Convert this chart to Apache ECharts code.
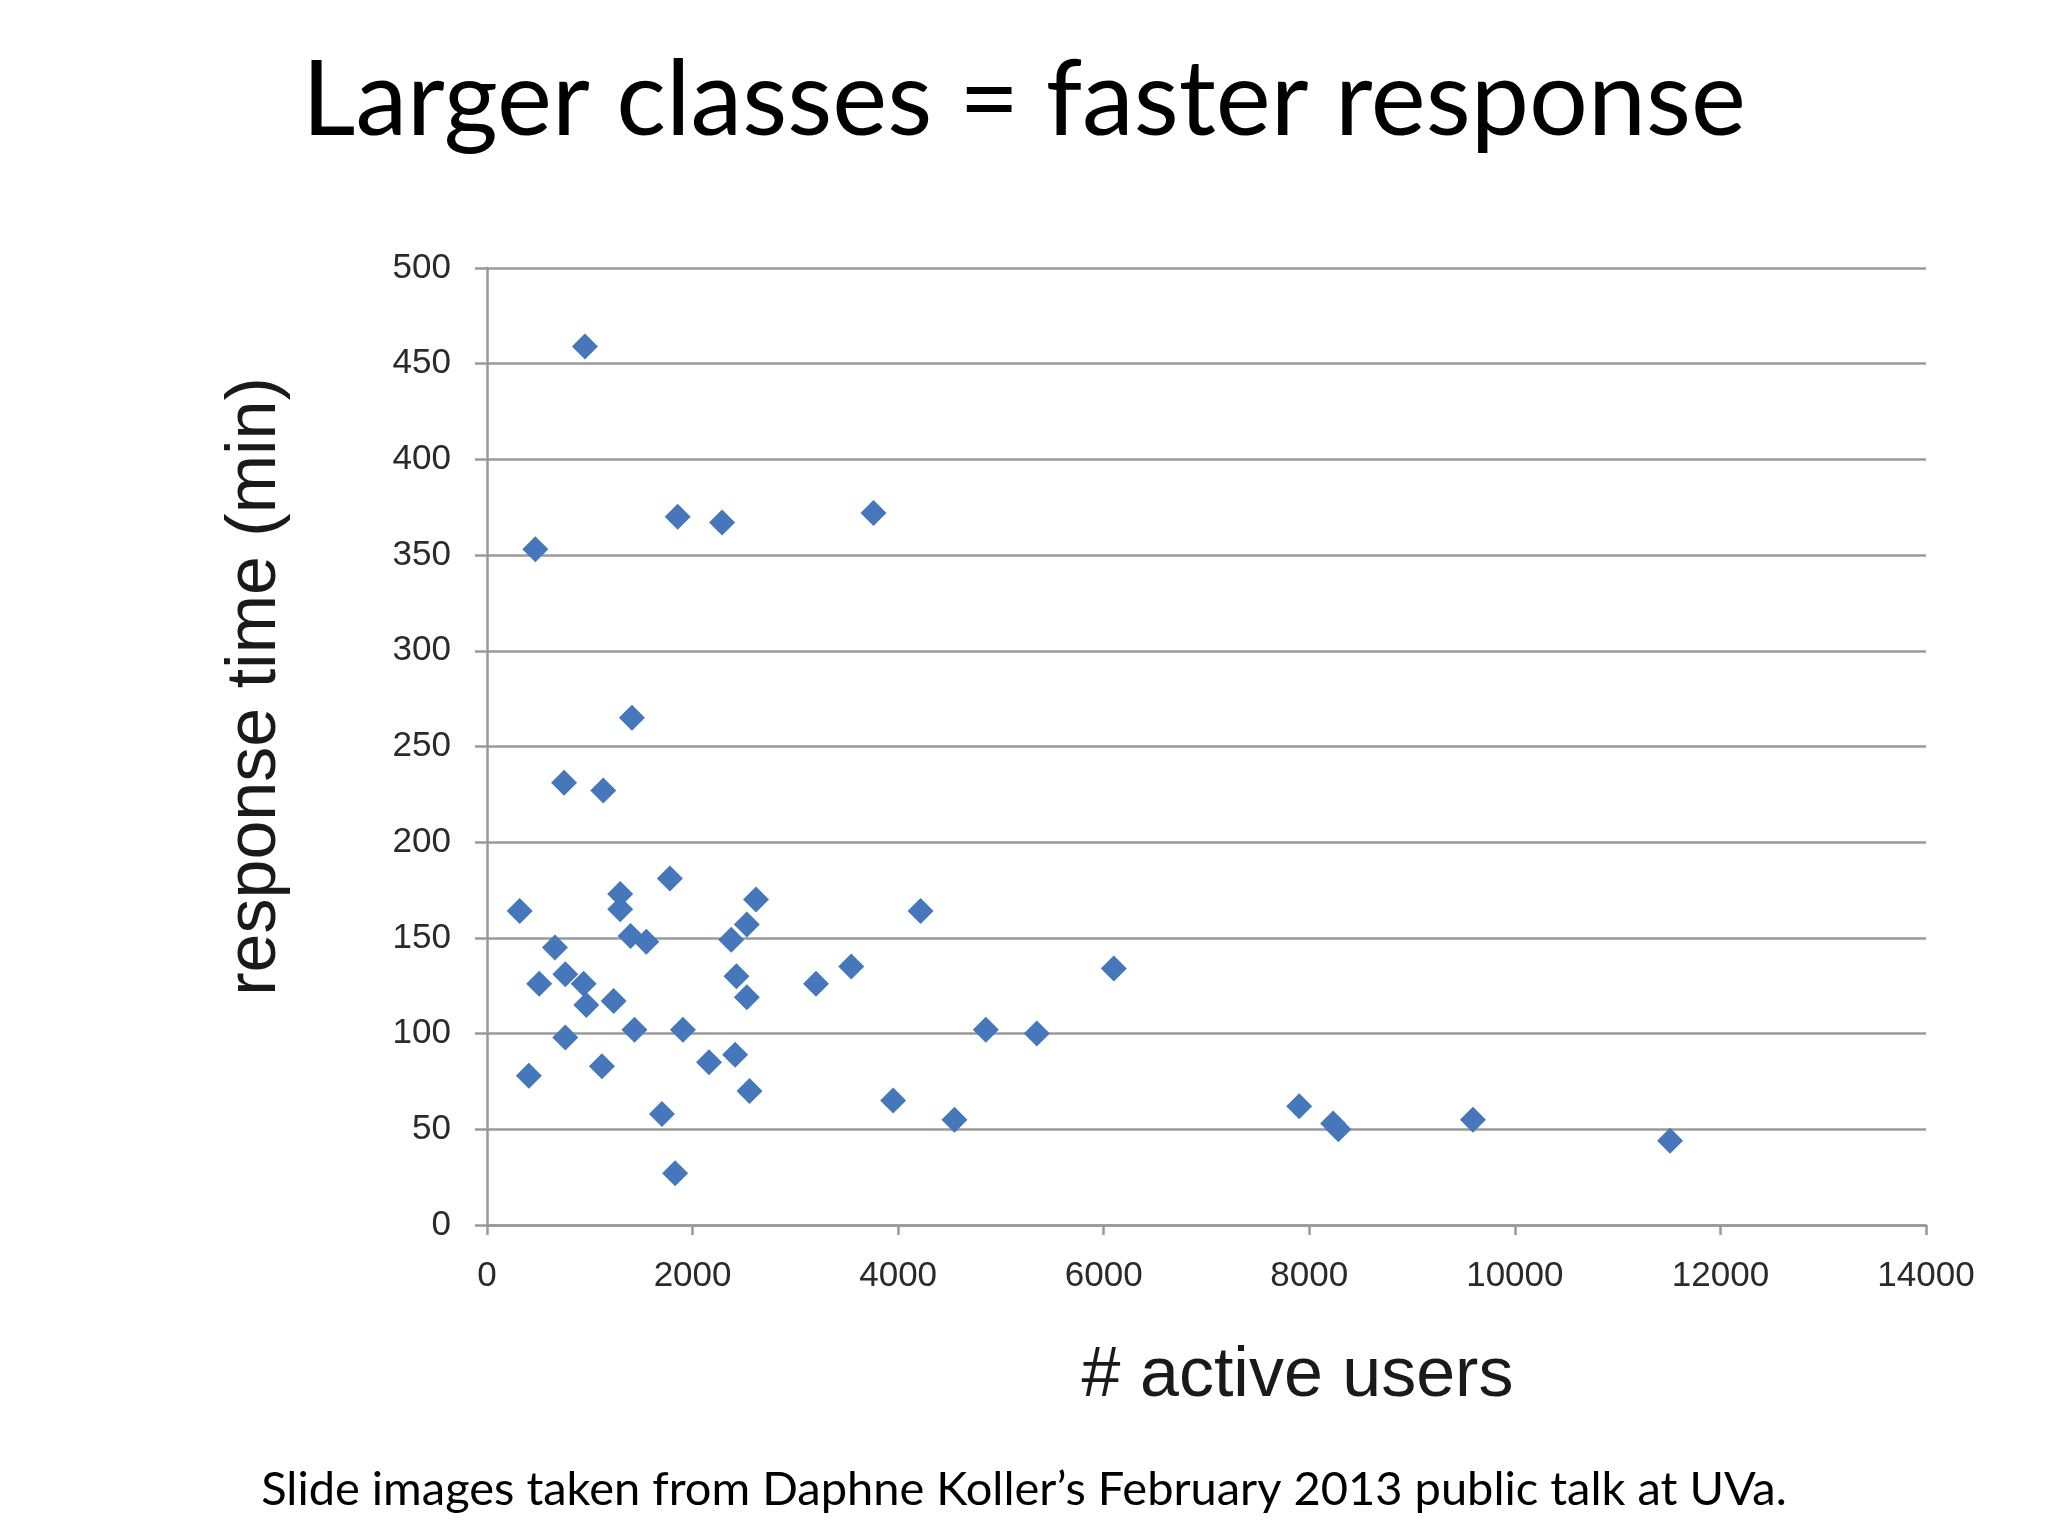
<!DOCTYPE html>
<html>
<head>
<meta charset="utf-8">
<title>Larger classes = faster response</title>
<script src="https://cdn.jsdelivr.net/npm/echarts@6/dist/echarts.min.js"></script>
<style>
  html, body { margin: 0; padding: 0; background: #fff; }
  #chart { width: 2048px; height: 1536px; }
</style>
</head>
<body>
<div id="chart"></div>
<script>
// # active users per class
const activeUsers = [
  953, 470, 1855, 2287, 3760, 1410, 750, 1131, 318, 1779,
  1296, 1296, 2617, 4218, 661, 1397, 1550, 2376, 2528, 762,
  940, 508, 966, 1232, 2427, 2528, 3201, 3544, 6098, 762,
  1435, 1906, 4853, 5349, 1118, 407, 2160, 2414, 2554, 3951,
  1702, 4548, 7902, 8232, 8283, 9592, 11510, 1830
]
// response time (min), same order
const responseTime = [
  459, 353, 370, 367, 372, 265, 231, 227, 164, 181,
  173, 165, 170, 164, 145, 151, 148, 149, 157, 131,
  126, 126, 115, 117, 130, 119, 126, 135, 134, 98,
  102, 102, 102, 100, 83, 78, 85, 89, 70, 65,
  58, 55, 62, 53, 50, 55, 44, 27
]
const xTicks = [0, 2000, 4000, 6000, 8000, 10000, 12000, 14000]
const yTicks = [0, 50, 100, 150, 200, 250, 300, 350, 400, 450, 500]

const points = activeUsers.map((u, i) => [u, responseTime[i]])

const chart = echarts.init(document.getElementById('chart'))

const axisFont = 'Liberation Sans'

chart.setOption({
  backgroundColor: '#ffffff',
  animation: false,
  title: {
    text: 'Larger classes = faster response',
    left: 'center',
    top: 44,
    textStyle: {
      fontFamily: 'Lato',
      fontWeight: 'normal',
      fontSize: 104,
      color: '#000'
    }
  },
  graphic: [{
    type: 'text',
    left: 'center',
    top: 1466,
    style: {
      text: 'Slide images taken from Daphne Koller\u2019s February 2013 public talk at UVa.',
      font: '47px Lato',
      fill: '#000'
    }
  }],
  grid: { left: 487, right: 122, top: 268, bottom: 311 },
  xAxis: {
    type: 'value',
    min: xTicks[0],
    max: xTicks[xTicks.length - 1],
    interval: 2000,
    name: '# active users',
    nameLocation: 'middle',
    nameGap: 117,
    nameTextStyle: {
      fontFamily: axisFont,
      fontSize: 70,
      color: '#1a1a1a',
      padding: [0, 0, 0, 182]
    },
    axisLine: { lineStyle: { color: '#999', width: 2.5 } },
    axisTick: { show: true, length: 10, lineStyle: { color: '#999', width: 2.5 } },
    axisLabel: {
      fontFamily: axisFont, fontSize: 35, color: '#2a2a2a', margin: 34,
      formatter: v => String(v)
    },
    splitLine: { show: false }
  },
  yAxis: {
    type: 'value',
    min: yTicks[0],
    max: yTicks[yTicks.length - 1],
    interval: 50,
    name: 'response time (min)',
    nameLocation: 'middle',
    nameGap: 196,
    nameTextStyle: {
      fontFamily: axisFont,
      fontSize: 70,
      color: '#1a1a1a',
      padding: [0, 0, 0, 120]
    },
    axisLine: { show: true, lineStyle: { color: '#999', width: 2.5 } },
    axisTick: { show: true, length: 12, lineStyle: { color: '#999', width: 2.5 } },
    axisLabel: { fontFamily: axisFont, fontSize: 35, color: '#2a2a2a', margin: 36 },
    splitLine: { show: true, lineStyle: { color: '#9a9a9a', width: 2.5 } }
  },
  series: [{
    type: 'scatter',
    data: points,
    symbol: 'diamond',
    symbolSize: 26,
    itemStyle: { color: '#4677ba', opacity: 1 }
  }]
})
</script>
</body>
</html>
